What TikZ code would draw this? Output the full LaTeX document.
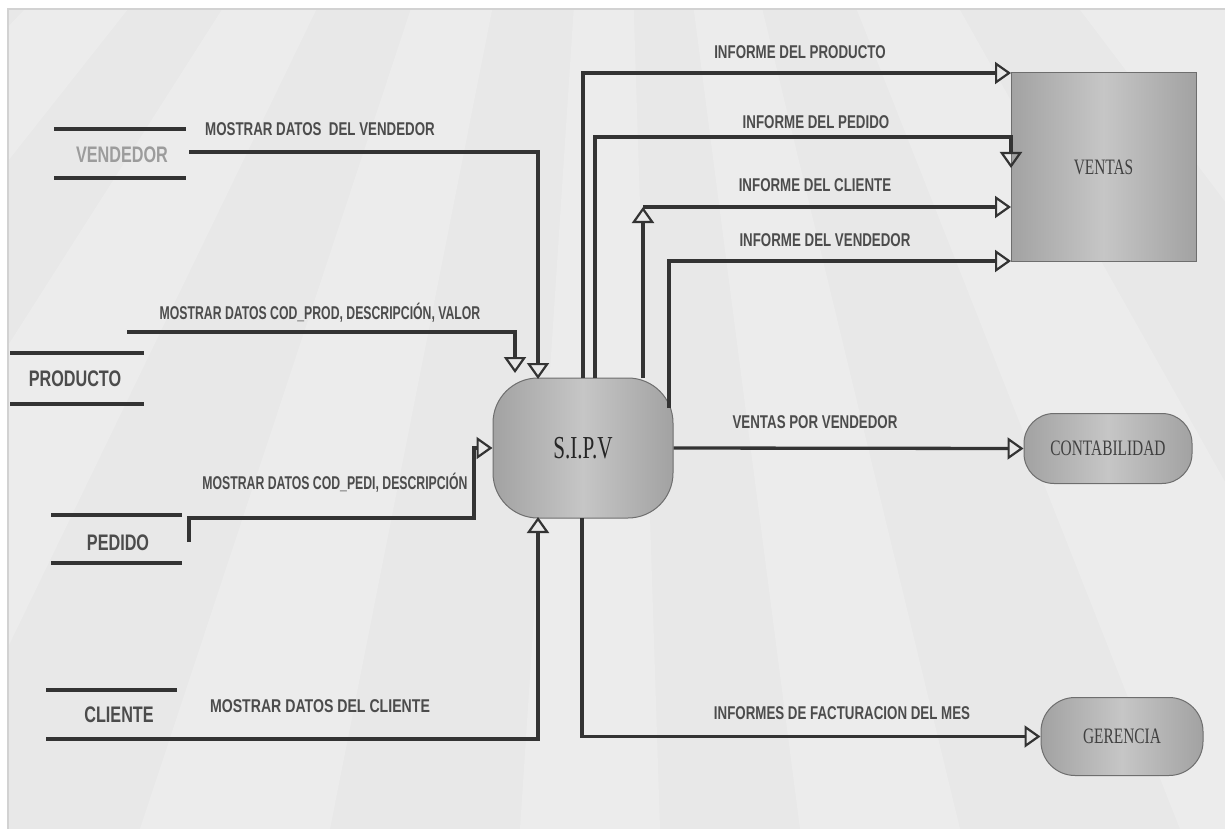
\documentclass[tikz,border=0pt]{standalone}
\usepackage{fontspec}
\setmainfont{Liberation Serif}
\newfontfamily\lblfont[FakeStretch=0.72]{Liberation Sans}
\newfontfamily\serfont[FakeStretch=0.7]{Liberation Serif}
\newfontfamily\sipvfont[FakeStretch=0.66]{Liberation Serif}
\usetikzlibrary{arrows.meta}
\definecolor{bgc}{HTML}{E8E8E8}
\definecolor{framec}{HTML}{D2D2D2}
\definecolor{linec}{HTML}{333333}
\definecolor{labelc}{HTML}{4C4C4C}
\definecolor{lightlbl}{HTML}{9C9C9C}
\definecolor{boxedge}{HTML}{A2A2A2}
\definecolor{boxmid}{HTML}{C6C6C6}
\definecolor{boxdraw}{HTML}{6E6E6E}
\tikzset{
  lbl/.style={font=\lblfont\bfseries\fontsize{18.5}{20}\selectfont, text=labelc, inner sep=0pt},
  storetxt/.style={font=\lblfont\bfseries\fontsize{22.5}{24}\selectfont, text=labelc, inner sep=0pt},
  sline/.style={draw=linec, line width=3.6pt},
  flow/.style={draw=linec, line width=3.3pt, line join=miter,
    -{Triangle[open,length=16pt,width=22pt,line width=2.2pt]}},
  plain/.style={draw=linec, line width=3.3pt, line join=miter},
  gradbox/.style={draw=boxdraw, line width=1pt, left color=boxedge, right color=boxedge, middle color=boxmid},
  proc/.style={gradbox, rounded corners=45pt, minimum width=180pt, minimum height=140pt,
    font=\sipvfont\fontsize{32}{34}\selectfont, text=black!85, inner sep=0pt},
  extent/.style={gradbox, rounded corners=30pt, font=\serfont\fontsize{22}{24}\selectfont, text=black!75, inner sep=0pt},
  ventbox/.style={gradbox, minimum width=185pt, minimum height=188pt, font=\serfont\fontsize{22}{24}\selectfont, text=black!75, inner sep=0pt}
}
\begin{document}
\begin{tikzpicture}[x=1pt,y=-1pt]
\useasboundingbox (0,0) rectangle (1225,829);
% background
\fill[white] (0,0) rectangle (1225,829);
\fill[bgc] (8,9) rectangle (1225,829);
\begin{scope}
  \clip (8,9) rectangle (1225,829);
  \foreach \a/\b in {-760/-520, -300/-80, 140/330, 520/660, 800/960, 1180/1420, 1700/2050}{
    \fill[white, opacity=0.2] (614,-606) -- (\a,829) -- (\b,829) -- cycle;
  }
\end{scope}
\draw[framec, line width=2pt] (8,829) -- (8,9) -- (1225,9);

% process and external entities
\node[proc] (sipv) at (583,448) {S.I.P.V};
\node[ventbox] (ventas) at (1103.5,167) {VENTAS};
\node[extent, minimum width=168pt, minimum height=70pt] (conta) at (1108,448.5) {CONTABILIDAD};
\node[extent, minimum width=162pt, minimum height=78pt, rounded corners=34pt] (geren) at (1122,736.5) {GERENCIA};

% data stores
\node[storetxt, text=lightlbl] (vend) at (122,155) {VENDEDOR};
\draw[sline] (54,129) -- (186,129) (54,178) -- (186,178);
\node[storetxt] (prod) at (75,379) {PRODUCTO};
\draw[sline] (10,353) -- (144,353) (10,404) -- (144,404);
\node[storetxt] (ped) at (118,543) {PEDIDO};
\draw[sline] (51,515) -- (182,515) (51,563) -- (182,563);
\node[storetxt] (cli) at (119,715) {CLIENTE};
\draw[sline] (46,690) -- (177,690) (46,739) -- (177,739);

% connector end points
\coordinate (vendOut) at (189,152);
\coordinate (prodOut) at (127,332);
\coordinate (pedOut) at (189,542);
\coordinate (cliOut) at (177,739);
\coordinate (sV) at (538,379);
\coordinate (sP) at (515,373);
\coordinate (sC) at (538,517);
\coordinate (o1) at (583,378);
\coordinate (o2) at (595,378);
\coordinate (o3) at (643,378);
\coordinate (o4) at (669,408);
\coordinate (o6) at (582,518);
\coordinate (c3) at (643,207);
\coordinate (v1) at (1011,73);
\coordinate (v2) at (1011,168);
\coordinate (v3) at (1011,207);
\coordinate (v4) at (1011,261);

% inputs
\draw[flow] (vendOut) -| (sV);
\draw[flow] (prodOut) -| (sP);
\draw[flow] (pedOut) -- (189,518) -- (474,518) -- (474,448) -- (sipv.west);
\draw[plain] (46,739) -- (cliOut);
\draw[flow] (cliOut) -| (sC);

% outputs
\draw[flow] (o1) |- (v1);
\draw[flow] (o2) |- (1011,137) -- (v2);
\draw[flow] (o3) -- (c3);
\draw[flow] (c3) -- (v3);
\draw[flow] (o4) |- (v4);
\draw[flow] (sipv.east) -- (conta.west);
\draw[flow] (o6) |- (geren.west);

% labels
\node[lbl] (l1) at (320,129) {MOSTRAR DATOS\ \ DEL VENDEDOR};
\node[lbl] (l2) at (320,313) {\scalebox{0.92}[1]{MOSTRAR DATOS COD\_PROD, DESCRIPCIÓN, VALOR}};
\node[lbl] (l3) at (335,483) {\scalebox{0.92}[1]{MOSTRAR DATOS COD\_PEDI, DESCRIPCIÓN}};
\node[lbl] (l4) at (320,706) {\scalebox{1.06}[1]{MOSTRAR DATOS DEL CLIENTE}};
\node[lbl] (l5) at (800,52) {INFORME DEL PRODUCTO};
\node[lbl] (l6) at (816,122) {INFORME DEL PEDIDO};
\node[lbl] (l7) at (815,185) {INFORME DEL CLIENTE};
\node[lbl] (l8) at (825,240) {INFORME DEL VENDEDOR};
\node[lbl] (l9) at (815,422) {VENTAS POR VENDEDOR};
\node[lbl] (l10) at (842,713) {INFORMES DE FACTURACION DEL MES};
\end{tikzpicture}
\end{document}
